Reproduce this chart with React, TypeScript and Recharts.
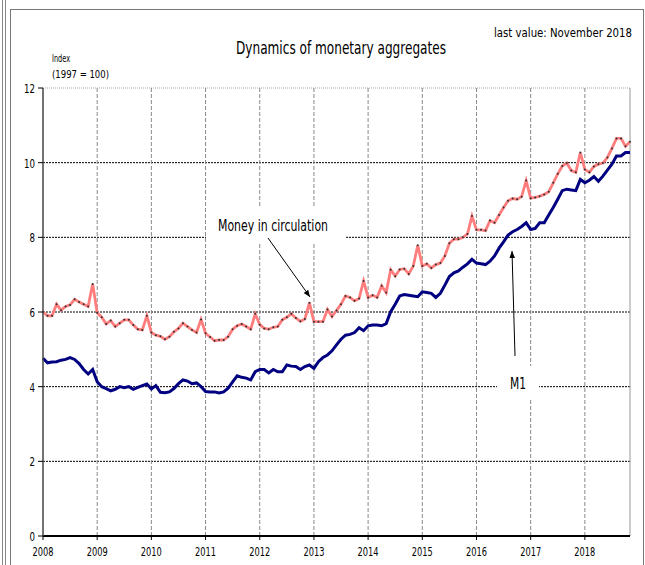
import React from 'react';
import { LineChart, Line, XAxis, YAxis, ReferenceLine } from 'recharts';

const FONT = "'Liberation Sans Narrow', 'DejaVu Sans Condensed', Arial, sans-serif";

// monthly, Jan 2008 .. Nov 2018
const moneyInCirculation = [
    6.0, 5.9, 5.9, 6.21, 6.05, 6.15, 6.19, 6.34, 6.27, 6.21, 6.15, 6.75,
    5.98, 5.86, 5.68, 5.77, 5.61, 5.7, 5.79, 5.79, 5.65, 5.54, 5.52, 5.9,
    5.45, 5.38, 5.35, 5.27, 5.34, 5.47, 5.56, 5.7, 5.61, 5.52, 5.45, 5.8,
    5.43, 5.33, 5.23, 5.25, 5.25, 5.34, 5.54, 5.63, 5.68, 5.61, 5.54, 5.95,
    5.66, 5.56, 5.54, 5.59, 5.61, 5.79, 5.86, 5.95, 5.84, 5.75, 5.81, 6.25,
    5.74, 5.74, 5.74, 6.07, 5.88, 6.04, 6.21, 6.43, 6.39, 6.3, 6.36, 6.83,
    6.39, 6.45, 6.39, 6.7, 6.52, 7.13, 6.96, 7.14, 7.16, 7.02, 7.23, 7.79,
    7.23, 7.29, 7.18, 7.27, 7.31, 7.5, 7.84, 7.95, 7.95, 8.0, 8.09, 8.57,
    8.2, 8.2, 8.18, 8.45, 8.39, 8.6, 8.8, 8.98, 9.04, 9.02, 9.09, 9.52,
    9.05, 9.07, 9.1, 9.15, 9.22, 9.46, 9.7, 9.91, 9.99, 9.79, 9.74, 10.27,
    9.82, 9.74, 9.9, 9.96, 9.99, 10.14, 10.38, 10.65, 10.65, 10.44, 10.56,
];

const m1 = [
    4.76, 4.64, 4.66, 4.67, 4.71, 4.73, 4.78, 4.73, 4.62, 4.46, 4.34, 4.46,
    4.13, 4.0, 3.95, 3.89, 3.93, 4.0, 3.97, 4.0, 3.93, 3.98, 4.03, 4.07,
    3.94, 4.03, 3.85, 3.84, 3.86, 3.95, 4.08, 4.18, 4.15, 4.08, 4.1, 4.0,
    3.87, 3.86, 3.86, 3.83, 3.86, 3.96, 4.13, 4.29, 4.25, 4.23, 4.18, 4.4,
    4.46, 4.46, 4.37, 4.46, 4.4, 4.4, 4.58, 4.55, 4.54, 4.46, 4.54, 4.58,
    4.49, 4.67, 4.78, 4.85, 4.96, 5.12, 5.27, 5.38, 5.4, 5.45, 5.58, 5.5,
    5.63, 5.65, 5.65, 5.63, 5.69, 6.01, 6.21, 6.43, 6.47, 6.45, 6.43, 6.41,
    6.54, 6.52, 6.5, 6.39, 6.5, 6.72, 6.95, 7.05, 7.1, 7.2, 7.29, 7.41,
    7.31, 7.29, 7.27, 7.36, 7.5, 7.71, 7.88, 8.06, 8.15, 8.21, 8.29, 8.39,
    8.21, 8.24, 8.39, 8.39, 8.6, 8.8, 9.02, 9.25, 9.29, 9.27, 9.25, 9.55,
    9.46, 9.53, 9.63, 9.5, 9.64, 9.8, 9.96, 10.18, 10.18, 10.27, 10.27,
];

const years = [2008, 2009, 2010, 2011, 2012, 2013, 2014, 2015, 2016, 2017, 2018];
const yTicks = [0, 2, 4, 6, 8, 10, 12];

const data = m1.map((v, i) => ({ i, m1: v, cash: moneyInCirculation[i] }));
const xTicks = years.map((_, k) => k * 12);

// narrow text: squeeze the condensed font to the reference widths
const XTick = ({ x, y, payload }: any) => (
    <text x={x} y={y + 14} textAnchor="middle" fontSize={13} fill="#000" fontFamily={FONT}
        textLength={21} lengthAdjust="spacingAndGlyphs">
        {String(2008 + payload.value / 12)}
    </text>
);

const YTick = ({ x, y, payload }: any) => {
    const s = String(payload.value);
    return (
        <text x={x - 1} y={y + 5} textAnchor="end" fontSize={13} fill="#000" fontFamily={FONT}
            textLength={s.length * 5.5} lengthAdjust="spacingAndGlyphs">
            {s}
        </text>
    );
};

export default function App() {
    return (
        <div style={{ position: 'absolute', left: 0, top: 0, width: 645, height: 565, background: '#fff', fontFamily: FONT, overflow: 'hidden' }}>
            {/* outer frames */}
            <div style={{ position: 'absolute', left: 2, top: 0, width: 2, height: 565, borderLeft: '1px solid #888', borderRight: '1px solid #888' }} />
            <div style={{ position: 'absolute', left: 10, top: 9, width: 632, height: 600, border: '1px solid #777' }} />

            <div style={{ position: 'absolute', left: 0, top: 0 }}>
                <LineChart width={645} height={565} data={data} margin={{ top: 88, right: 15, left: 0, bottom: 0 }}>
                    <XAxis
                        dataKey="i"
                        type="number"
                        domain={[0, 130]}
                        ticks={xTicks}
                        tick={<XTick />}
                        axisLine={{ stroke: '#000', strokeWidth: 2 }}
                        tickLine={{ stroke: '#000' }}
                        tickSize={4}
                        height={29}
                    />
                    <YAxis
                        type="number"
                        domain={[0, 12]}
                        ticks={yTicks}
                        tick={<YTick />}
                        axisLine={{ stroke: '#444', strokeWidth: 1.5 }}
                        tickLine={{ stroke: '#000' }}
                        tickSize={5}
                        tickMargin={2}
                        width={43}
                    />
                    {yTicks.slice(1, -1).map((v) => (
                        <ReferenceLine key={'h' + v} y={v} stroke="#000" strokeDasharray="2 1" strokeWidth={1} />
                    ))}
                    <ReferenceLine y={12} stroke="#aaa" strokeDasharray="1 1" strokeWidth={1} />
                    {xTicks.slice(1).map((v) => (
                        <ReferenceLine key={'v' + v} x={v} stroke="#888" strokeDasharray="4 2" strokeWidth={1} />
                    ))}
                    <ReferenceLine x={130} stroke="#999" strokeWidth={1} />
                    <Line
                        dataKey="m1"
                        stroke="#000080"
                        strokeWidth={3}
                        dot={false}
                        isAnimationActive={false}
                    />
                    <Line
                        dataKey="cash"
                        stroke="#ff7d7d"
                        strokeWidth={2.8}
                        dot={{ r: 1, fill: '#333', stroke: 'none' }}
                        isAnimationActive={false}
                    />
                </LineChart>
            </div>

            {/* titles and annotations */}
            <svg width={645} height={565} style={{ position: 'absolute', left: 0, top: 0, pointerEvents: 'none' }} fontFamily={FONT}>
                <defs>
                    <marker id="arr" viewBox="0 0 10 10" refX="10" refY="5" markerWidth="7" markerHeight="7" orient="auto">
                        <path d="M0,1 L10,5 L0,9 z" fill="#000" />
                    </marker>
                </defs>
                <text x={236} y={54} fontSize={18} fill="#000" textLength={210} lengthAdjust="spacingAndGlyphs">Dynamics of monetary aggregates</text>
                <text x={494} y={37} fontSize={12} fill="#000" textLength={138} lengthAdjust="spacingAndGlyphs">last value:  November  2018</text>
                <text x={52} y={62} fontSize={11} fill="#000" textLength={18} lengthAdjust="spacingAndGlyphs">Index</text>
                <text x={52} y={78} fontSize={11} fill="#000" textLength={57} lengthAdjust="spacingAndGlyphs">(1997 = 100)</text>

                <rect x={206} y={206} width={140} height={36} fill="#fff" />
                <text x={218} y={231} fontSize={15} fill="#000" textLength={110} lengthAdjust="spacingAndGlyphs">Money in circulation</text>
                <line x1={268} y1={238} x2={310} y2={297} stroke="#000" strokeWidth={1} markerEnd="url(#arr)" />

                <rect x={497} y={366} width={42} height={34} fill="#fff" />
                <text x={510} y={389} fontSize={15} fill="#000" textLength={16} lengthAdjust="spacingAndGlyphs">M1</text>
                <line x1={515} y1={356} x2={512} y2={251} stroke="#000" strokeWidth={1} markerEnd="url(#arr)" />
            </svg>
        </div>
    );
}
